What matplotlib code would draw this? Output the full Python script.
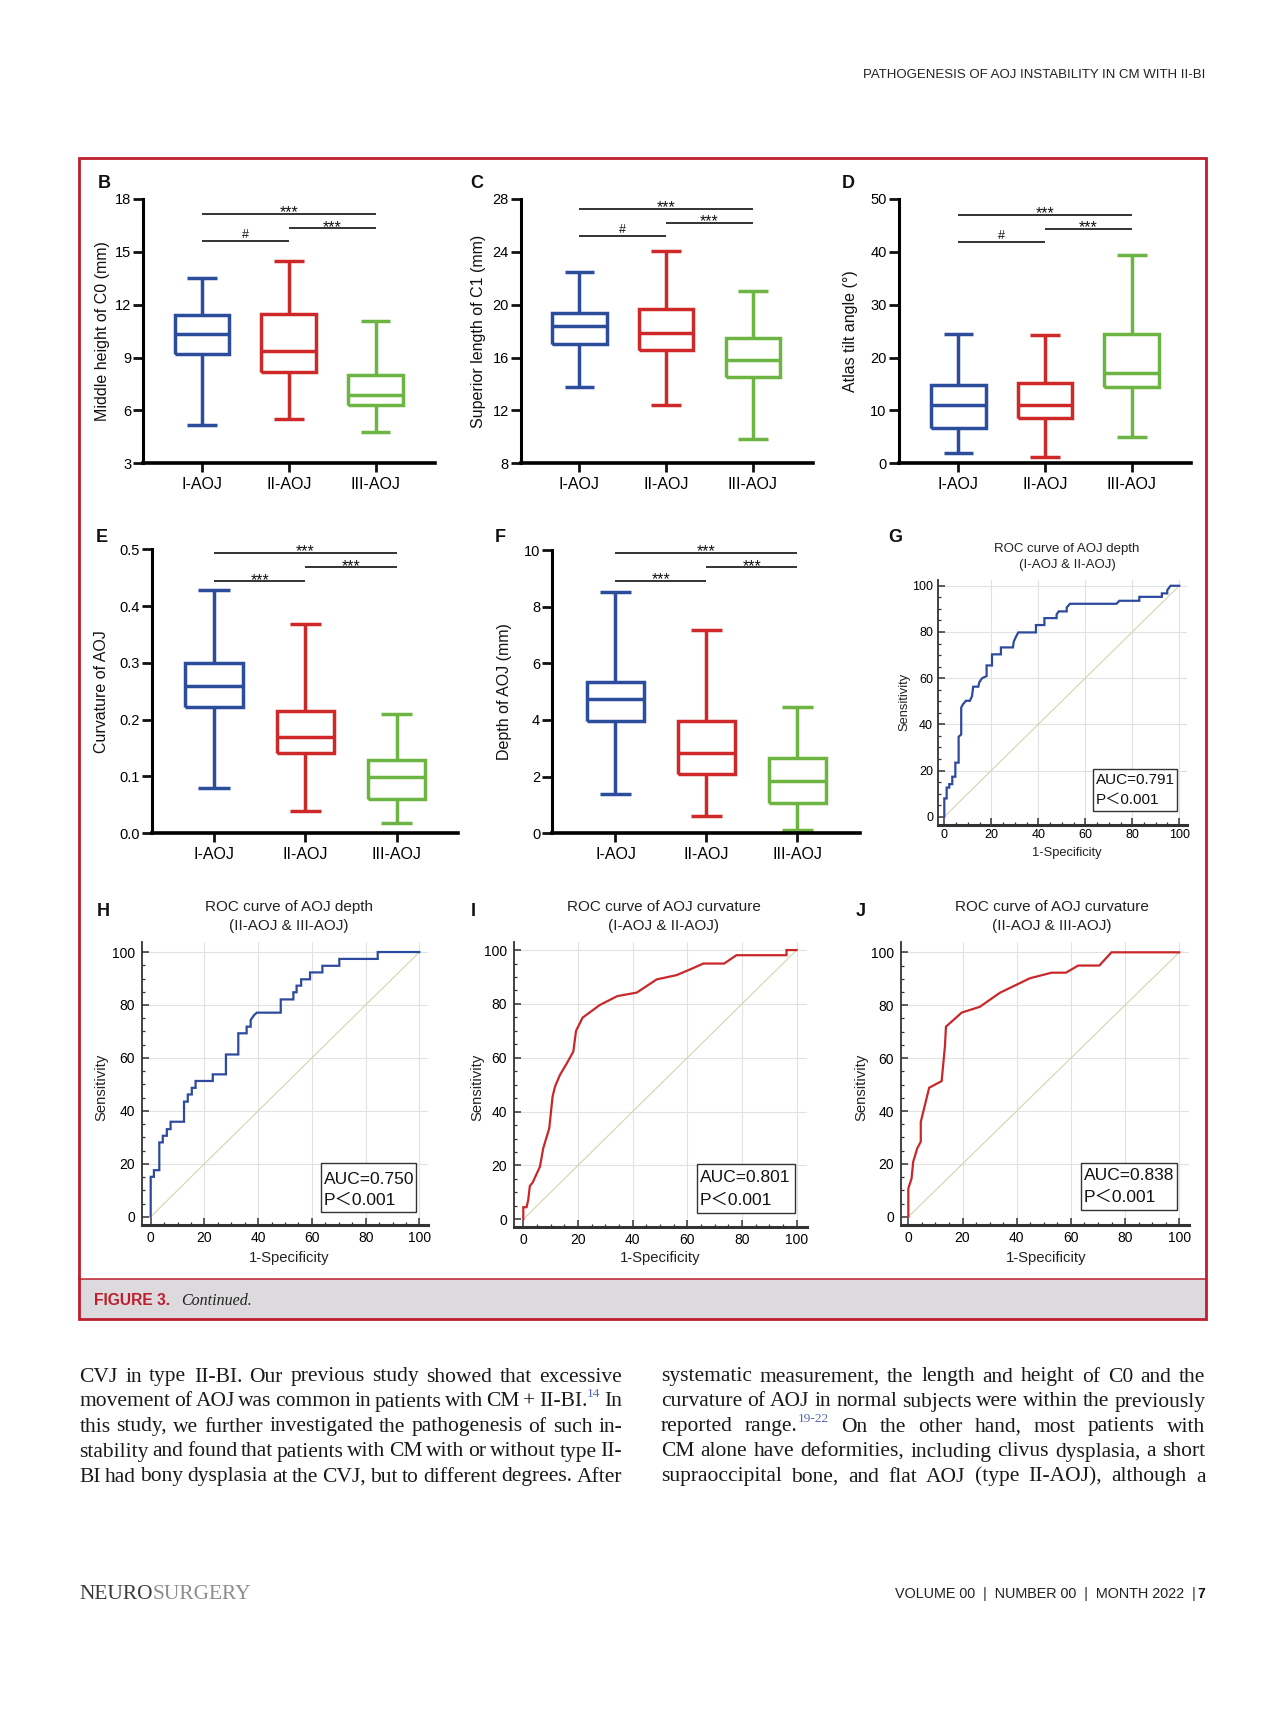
import matplotlib
matplotlib.use('Agg')
import matplotlib.pyplot as plt
from matplotlib.patches import Rectangle
from matplotlib.lines import Line2D
from matplotlib.ticker import MultipleLocator
from matplotlib import font_manager

plt.rcParams['font.family'] = ['Liberation Sans', 'DejaVu Sans']
_names = {f.name for f in font_manager.fontManager.ttflist}
NARROW = 'Liberation Sans Narrow' if 'Liberation Sans Narrow' in _names else 'Liberation Sans'
SERIF = 'Liberation Serif'

# ---------------- data ----------------
CATS = ['I-AOJ', 'II-AOJ', 'III-AOJ']
BOX_COLORS = ['#2C4C9C', '#CE2828', '#6DB543']

# B: Middle height of C0 (mm)
b_whislo = [5.2, 5.5, 4.8]
b_q1 = [9.2, 8.2, 6.3]
b_med = [10.35, 9.35, 6.9]
b_q3 = [11.4, 11.45, 8.0]
b_whishi = [13.5, 14.5, 11.1]
b_sig = [(1, 3, 17.15, '***'), (2, 3, 16.34, '***'), (1, 2, 15.63, '#')]

# C: Superior length of C1 (mm)
c_whislo = [13.75, 12.4, 9.85]
c_q1 = [17.0, 16.6, 14.5]
c_med = [18.4, 17.85, 15.8]
c_q3 = [19.4, 19.65, 17.5]
c_whishi = [22.5, 24.1, 21.05]
c_sig = [(1, 3, 27.25, '***'), (2, 3, 26.19, '***'), (1, 2, 25.19, '#')]

# D: Atlas tilt angle
d_whislo = [1.9, 1.2, 4.9]
d_q1 = [6.7, 8.6, 14.5]
d_med = [11.0, 11.0, 17.1]
d_q3 = [14.8, 15.2, 24.4]
d_whishi = [24.5, 24.3, 39.5]
d_sig = [(1, 3, 46.99, '***'), (2, 3, 44.35, '***'), (1, 2, 41.9, '#')]

# E: Curvature of AOJ
e_whislo = [0.079, 0.039, 0.019]
e_q1 = [0.222, 0.141, 0.061]
e_med = [0.26, 0.17, 0.099]
e_q3 = [0.299, 0.216, 0.129]
e_whishi = [0.428, 0.369, 0.21]
e_sig = [(1, 3, 0.494, '***'), (2, 3, 0.468, '***'), (1, 2, 0.444, '***')]

# F: Depth of AOJ (mm)
f_whislo = [1.40, 0.61, 0.12]
f_q1 = [3.96, 2.09, 1.06]
f_med = [4.73, 2.85, 1.86]
f_q3 = [5.33, 3.96, 2.65]
f_whishi = [8.53, 7.18, 4.45]
f_sig = [(1, 3, 9.91, '***'), (2, 3, 9.39, '***'), (1, 2, 8.91, '***')]

# ROC curves (1-specificity %, sensitivity %)
g_roc = [(0, 0), (0, 7.9), (1.0, 7.9), (1.0, 12.6), (2.1, 12.6), (2.1, 14.1), (3.4, 14.1), (3.4, 17.3),
         (4.7, 17.3), (4.7, 23.4), (6.1, 23.4), (6.1, 34.6), (7.2, 35.6), (7.2, 47.3), (7.9, 48.6),
         (9.2, 50.2), (10.9, 50.2), (11.8, 52.2), (12.3, 56.3), (14.5, 56.3), (14.9, 58.2), (16.0, 59.9),
         (18.0, 60.9), (18.0, 65.5), (20.3, 65.5), (20.3, 70.3), (24.1, 70.3), (24.1, 73.3), (29.2, 73.3),
         (29.6, 75.9), (30.5, 77.9), (31.5, 79.8), (39.0, 79.8), (39.0, 83.0), (42.6, 83.0), (42.6, 86.0),
         (47.8, 86.0), (47.8, 87.6), (48.7, 88.9), (52.1, 88.9), (52.1, 90.6), (53.5, 92.2), (73.3, 92.2),
         (74.5, 93.5), (83.0, 93.5), (83.0, 95.2), (92.6, 95.2), (92.6, 96.7), (94.9, 96.7), (94.9, 98.1),
         (96.3, 100), (100, 100)]
h_roc = [(0, 0), (0, 15.1), (1.2, 15.1), (1.2, 17.6), (3.2, 17.6), (3.2, 28.1), (4.5, 28.1), (4.5, 30.6),
         (6.0, 30.6), (6.0, 33.1), (7.4, 33.1), (7.4, 35.9), (12.4, 35.9), (12.4, 43.5), (13.8, 43.5),
         (13.8, 46.2), (15.3, 46.2), (15.3, 48.7), (16.7, 48.7), (16.7, 51.3), (23.1, 51.3), (23.1, 53.8),
         (28.0, 53.8), (28.0, 61.3), (32.6, 61.3), (32.6, 69.3), (35.7, 69.3), (35.7, 71.8), (37.2, 71.8),
         (37.2, 74.3), (38.5, 76.2), (39.5, 77.1), (48.4, 77.1), (48.4, 82.1), (53.1, 82.1), (53.1, 84.8),
         (54.3, 84.8), (54.3, 87.3), (56.0, 87.3), (56.0, 89.7), (59.3, 89.7), (59.3, 92.3), (63.9, 92.3),
         (63.9, 94.8), (70.2, 94.8), (70.2, 97.4), (84.5, 97.4), (84.5, 100), (100, 100)]
i_roc = [(0, 0), (0, 4.5), (1.2, 4.5), (1.8, 7.2), (2.4, 12.4), (3.4, 13.6), (6.1, 19.6), (7.3, 26.4),
         (9.5, 33.8), (10.7, 45.5), (11.6, 49.3), (13.4, 53.6), (15.9, 57.9), (18.3, 62.3), (19.3, 70.0),
         (21.7, 74.9), (28.0, 79.6), (34.4, 82.9), (41.5, 84.2), (48.8, 89.1), (56.1, 90.7), (61.0, 92.8),
         (65.9, 95.0), (73.5, 95.0), (78.0, 98.1), (96.3, 98.1), (96.3, 100), (100, 100)]
j_roc = [(0, 0), (0, 10.7), (1.2, 14.5), (1.8, 20.8), (3.3, 25.9), (4.6, 28.4), (4.6, 35.9), (7.7, 48.8),
         (12.3, 51.3), (13.5, 64.3), (13.9, 71.9), (19.7, 77.2), (26.4, 79.4), (33.8, 84.7), (44.9, 90.2),
         (52.9, 92.3), (58.2, 92.3), (62.7, 95.0), (70.5, 95.0), (75.0, 100), (100, 100)]
AUC_VALUES = ['0.791', '0.750', '0.801', '0.838']
ROC_TICKS = [0, 20, 40, 60, 80, 100]

COL1 = ["CVJ in type II-BI. Our previous study showed that excessive",
        "movement of AOJ was common in patients with CM + II-BI.^14 In",
        "this study, we further investigated the pathogenesis of such in-",
        "stability and found that patients with CM with or without type II-",
        "BI had bony dysplasia at the CVJ, but to different degrees. After"]
COL2 = ["systematic measurement, the length and height of C0 and the",
        "curvature of AOJ in normal subjects were within the previously",
        "reported range.^19-22 On the other hand, most patients with",
        "CM alone have deformities, including clivus dysplasia, a short",
        "supraoccipital bone, and flat AOJ (type II-AOJ), although a"]

# ---------------- figure helpers ----------------
W, H = 1280, 1713
fig = plt.figure(figsize=(W / 100, H / 100), dpi=100)
fig.patch.set_facecolor('white')
R = fig.canvas.get_renderer()


def fx(x):
    return x / W


def fy(y):
    return 1 - y / H


def ptext(x, y, s, **kw):
    return fig.text(fx(x), fy(y), s, **kw)


def add_ax(l, t, r, b):
    return fig.add_axes([fx(l), fy(b), (r - l) / W, (b - t) / H])


def width_of(t):
    return t.get_window_extent(R).width


def fit(t, width):
    t.set_fontsize(t.get_fontsize() * width / width_of(t))


# ---------------- frame & caption band ----------------
fig.patches.append(Rectangle((fx(79.4), fy(1319)), (1205.5 - 79.4) / W, (1319 - 1279.3) / H,
                             transform=fig.transFigure, facecolor='#DCDADC', edgecolor='none', zorder=0))
fig.add_artist(Line2D([fx(79.4), fx(1205.5)], [fy(1279.3)] * 2, color='#BE1E2D', lw=1.1,
                      transform=fig.transFigure, zorder=5))
fig.patches.append(Rectangle((fx(79.4), fy(1319)), (1205.5 - 79.4) / W, (1319 - 158.3) / H,
                             transform=fig.transFigure, fill=False, edgecolor='#BE1E2D', lw=2.0, zorder=6))


# ---------------- box plot panels ----------------
def box_panel(rect, xlim, ylim, yticks, yticklabels, stats, sigs, ylabel, ylabel_x, letter, letter_xy):
    ax = add_ax(*rect)
    whislo, q1, med, q3, whishi = stats
    bx = [dict(whislo=a, q1=b, med=c, q3=d, whishi=e, fliers=[])
          for a, b, c, d, e in zip(whislo, q1, med, q3, whishi)]
    art = ax.bxp(bx, positions=[1, 2, 3], widths=0.63, capwidths=0.34,
                 showfliers=False, manage_ticks=False)
    for i, col in enumerate(BOX_COLORS):
        for ln in [art['boxes'][i], art['medians'][i], art['whiskers'][2 * i], art['whiskers'][2 * i + 1],
                   art['caps'][2 * i], art['caps'][2 * i + 1]]:
            ln.set_color(col)
            ln.set_linewidth(2.5)
            ln.set_solid_capstyle('butt')
            ln.set_solid_joinstyle('miter')
    for x1, x2, y, lab in sigs:
        ax.plot([x1, x2], [y, y], color='#111111', lw=1.2, solid_capstyle='butt', clip_on=False)
        if lab == '***':
            ax.annotate(lab, xy=((x1 + x2) / 2, y), xytext=(0, -2.6), textcoords='offset points',
                        ha='center', va='baseline', fontsize=11.5, color='#111111')
        else:
            ax.annotate(lab, xy=((x1 + x2) / 2, y), xytext=(0, 2.0), textcoords='offset points',
                        ha='center', va='baseline', fontsize=9, color='#111111')
    ax.set_xlim(*xlim)
    ax.set_ylim(*ylim)
    ax.set_yticks(yticks)
    ax.set_yticklabels(yticklabels)
    ax.set_xticks([1, 2, 3])
    ax.set_xticklabels(CATS)
    for s in ['top', 'right']:
        ax.spines[s].set_visible(False)
    ax.spines['left'].set_linewidth(2.2)
    ax.spines['bottom'].set_linewidth(2.6)
    ax.tick_params(axis='y', direction='out', length=7, width=2.0, labelsize=10.5, pad=1.5, color='#111111')
    ax.tick_params(axis='x', direction='out', length=6.3, width=2.0, labelsize=11.5, pad=3.5, color='#111111')
    ax.set_facecolor('none')
    cy = (rect[1] + rect[3]) / 2
    ptext(ylabel_x, cy, ylabel, rotation=90, ha='center', va='center', fontsize=11.5, color='#111111')
    ptext(letter_xy[0], letter_xy[1], letter, ha='center', va='center', fontsize=13,
          weight='bold', color='#111111')
    return ax


box_panel((143.3, 199, 435.4, 463.3), (0.324, 3.689), (3, 18), [3, 6, 9, 12, 15, 18],
          ['3', '6', '9', '12', '15', '18'], (b_whislo, b_q1, b_med, b_q3, b_whishi), b_sig,
          'Middle height of C0 (mm)', 102, 'B', (104, 183))
box_panel((520.5, 199, 812.6, 463.3), (0.321, 3.688), (8, 28), [8, 12, 16, 20, 24, 28],
          ['8', '12', '16', '20', '24', '28'], (c_whislo, c_q1, c_med, c_q3, c_whishi), c_sig,
          'Superior length of C1 (mm)', 478.7, 'C', (477, 183))
box_panel((898.5, 199, 1190.7, 463.3), (0.311, 3.679), (0, 50), [0, 10, 20, 30, 40, 50],
          ['0', '10', '20', '30', '40', '50'], (d_whislo, d_q1, d_med, d_q3, d_whishi), d_sig,
          'Atlas tilt angle (°)', 851, 'D', (848.6, 183))
box_panel((152, 549.3, 458.5, 833.3), (0.321, 3.678), (0, 0.5), [0, 0.1, 0.2, 0.3, 0.4, 0.5],
          ['0.0', '0.1', '0.2', '0.3', '0.4', '0.5'], (e_whislo, e_q1, e_med, e_q3, e_whishi), e_sig,
          'Curvature of AOJ', 101.5, 'E', (101.5, 537))
box_panel((552, 550, 860, 833.3), (0.302, 3.688), (0, 10), [0, 2, 4, 6, 8, 10],
          ['0', '2', '4', '6', '8', '10'], (f_whislo, f_q1, f_med, f_q3, f_whishi), f_sig,
          'Depth of AOJ (mm)', 505, 'F', (500, 537))


# ---------------- ROC panels ----------------
def roc_panel(rect, xlim, ylim, pts, color, tsize, ypad, xpad, title, title_x, title_y, tfs,
              xlab_xy, ylab_xy, lfs, letter, letter_xy, box, auc, afs):
    ax = add_ax(*rect)
    ax.set_xlim(*xlim)
    ax.set_ylim(*ylim)
    ax.set_xticks(ROC_TICKS)
    ax.set_yticks(ROC_TICKS)
    ax.xaxis.set_minor_locator(MultipleLocator(5))
    ax.yaxis.set_minor_locator(MultipleLocator(5))
    for v in ROC_TICKS[1:]:
        ax.axhline(v, color='#E2E2E2', lw=0.8, zorder=0)
        ax.axvline(v, color='#E2E2E2', lw=0.8, zorder=0)
    ax.plot([0, 100], [0, 100], color='#D6D3AE', lw=0.8, zorder=1)
    fpr = [p[0] for p in pts]
    tpr = [p[1] for p in pts]
    ax.plot(fpr, tpr, color=color, lw=1.6, solid_joinstyle='miter', zorder=3)
    for s in ['top', 'right']:
        ax.spines[s].set_visible(False)
    ax.spines['left'].set_linewidth(1.3)
    ax.spines['left'].set_color('#333333')
    ax.spines['bottom'].set_linewidth(2.2)
    ax.spines['bottom'].set_color('#333333')
    ax.tick_params(axis='both', which='major', direction='in', length=5, width=1.1, color='#333333',
                   labelsize=tsize)
    ax.tick_params(axis='both', which='minor', direction='in', length=2.5, width=0.9, color='#333333')
    ax.tick_params(axis='y', which='major', pad=ypad)
    ax.tick_params(axis='x', which='major', pad=xpad)
    ax.set_facecolor('none')
    ptext(title_x, title_y[0], title[0], ha='center', va='center', fontsize=tfs, color='#222222')
    ptext(title_x, title_y[1], title[1], ha='center', va='center', fontsize=tfs, color='#222222')
    ptext(xlab_xy[0], xlab_xy[1], '1-Specificity', ha='center', va='center', fontsize=lfs, color='#222222')
    ptext(ylab_xy[0], ylab_xy[1], 'Sensitivity', ha='center', va='center', rotation=90,
          fontsize=lfs, color='#222222')
    ptext(letter_xy[0], letter_xy[1], letter, ha='center', va='center', fontsize=13,
          weight='bold', color='#111111')
    l, t, r, b, xt, y1, y2 = box
    fig.patches.append(Rectangle((fx(l), fy(b)), (r - l) / W, (b - t) / H, transform=fig.transFigure,
                                 facecolor='white', edgecolor='#333333', lw=1.0, zorder=2))
    ptext(xt, y1, 'AUC=' + auc, ha='left', va='center', fontsize=afs, color='#111111', zorder=3)
    ptext(xt, y2, 'P\uff1c0.001', ha='left', va='center', fontsize=afs, color='#111111', zorder=3,
          family=['Liberation Sans', 'Noto Sans CJK SC', 'DejaVu Sans'])
    return ax


roc_panel((938, 580, 1187, 825), (-2.68, 103.3), (-3.6, 102.5), g_roc, '#2E4A9E', 9, 3.5, 3,
          ('ROC curve of AOJ depth', '(I-AOJ & II-AOJ)'), 1067, (549, 565), 9.5,
          (1067, 853), (904, 702), 9.3, 'G', (895.5, 537.5),
          (1092.7, 769.3, 1177.3, 811.3, 1096, 780, 800), AUC_VALUES[0], 11)
roc_panel((141.7, 941.7, 427.7, 1225), (-3.35, 103.1), (-3.1, 103.9), h_roc, '#2E4A9E', 10, 5, 4.5,
          ('ROC curve of AOJ depth', '(II-AOJ & III-AOJ)'), 288.7, (907, 926), 11,
          (289, 1258), (101.5, 1087), 10.7, 'H', (103.6, 911.7),
          (320.7, 1163, 416, 1211.7, 323.5, 1179, 1200), AUC_VALUES[1], 12.5)
roc_panel((514, 942, 807, 1227), (-3.4, 103.8), (-2.86, 103.0), i_roc, '#C8282A', 10, 5, 4.5,
          ('ROC curve of AOJ curvature', '(I-AOJ & II-AOJ)'), 663.5, (907, 926), 11,
          (660.4, 1258), (477, 1087), 10.7, 'I', (473, 911.7),
          (696.7, 1164, 795, 1213.3, 700, 1178, 1200), AUC_VALUES[2], 12.5)
roc_panel((901, 942, 1189, 1225), (-2.7, 103.6), (-3.1, 103.9), j_roc, '#C8282A', 10, 5, 4.5,
          ('ROC curve of AOJ curvature', '(II-AOJ & III-AOJ)'), 1051.5, (907, 926), 11,
          (1045.7, 1258), (861.5, 1087), 10.7, 'J', (860.6, 911.7),
          (1080.7, 1162.7, 1176.7, 1210, 1084, 1176, 1197), AUC_VALUES[3], 12.5)

# ---------------- caption ----------------
cap = ptext(94, 1305, 'FIGURE 3.', ha='left', va='baseline', fontsize=11, weight='bold', color='#BE1E2D')
fit(cap, 76)
ptext(181, 1305, 'Continued.', ha='left', va='baseline', fontsize=11.5, style='italic',
      family=SERIF, color='#222222')

# ---------------- header ----------------
hd = ptext(1205.4, 78.3, 'PATHOGENESIS OF AOJ INSTABILITY IN CM WITH II-BI', ha='right', va='baseline',
           fontsize=10.5, family=NARROW, color='#222222')
fit(hd, 346)


# ---------------- body text (justified) ----------------
def justify(line, x0, x1, yb, fs):
    words = line.split(' ')
    while True:
        items = []
        for wd in words:
            parts = wd.split('^')
            lst = []
            for k, p in enumerate(parts):
                sup = k > 0
                t = fig.text(0, 0, p, fontsize=fs * 0.62 if sup else fs, family=SERIF,
                             color='#5468B0' if sup else '#1A1A1A', va='baseline', ha='left')
                lst.append((t, width_of(t), sup))
            items.append(lst)
        total = sum(w for lst in items for _, w, _ in lst)
        gap = (x1 - x0 - total) / (len(items) - 1)
        if gap >= 3.0 or fs < 9:
            break
        for lst in items:
            for t, _, _ in lst:
                t.remove()
        fs -= 0.25
    x = x0
    for lst in items:
        for t, w, sup in lst:
            yy = yb - (fs * 100 / 72 * 0.42 if sup else 0)
            t.set_position((fx(x), fy(yy)))
            x += w
        x += gap


for k, line in enumerate(COL1):
    justify(line, 79.4, 622, 1381.5 + 25 * k, 15.5)
for k, line in enumerate(COL2):
    justify(line, 661, 1205.4, 1381.5 + 25 * k, 15.5)

# ---------------- footer ----------------
n1 = ptext(79.4, 1599, 'NEURO', ha='left', va='baseline', fontsize=14.5, family=SERIF, color='#3A3A3A')
n2 = ptext(79.4, 1599, 'SURGERY', ha='left', va='baseline', fontsize=14.5, family=SERIF, color='#8C8C8C')
tot = width_of(n1) + width_of(n2)
sc = 172 / tot
n1.set_fontsize(14.5 * sc)
n2.set_fontsize(14.5 * sc)
n2.set_position((fx(79.4 + width_of(n1)), fy(1599)))

p7 = ptext(1205.4, 1598, '7', ha='right', va='baseline', fontsize=10, weight='bold', family=NARROW,
           color='#111111')
ft = ptext(1196, 1598, 'VOLUME 00  |  NUMBER 00  |  MONTH 2022  |', ha='right', va='baseline',
           fontsize=10, family=NARROW, color='#222222')
fit(ft, 304)

fig.savefig('out.png', dpi=100, facecolor='white')
